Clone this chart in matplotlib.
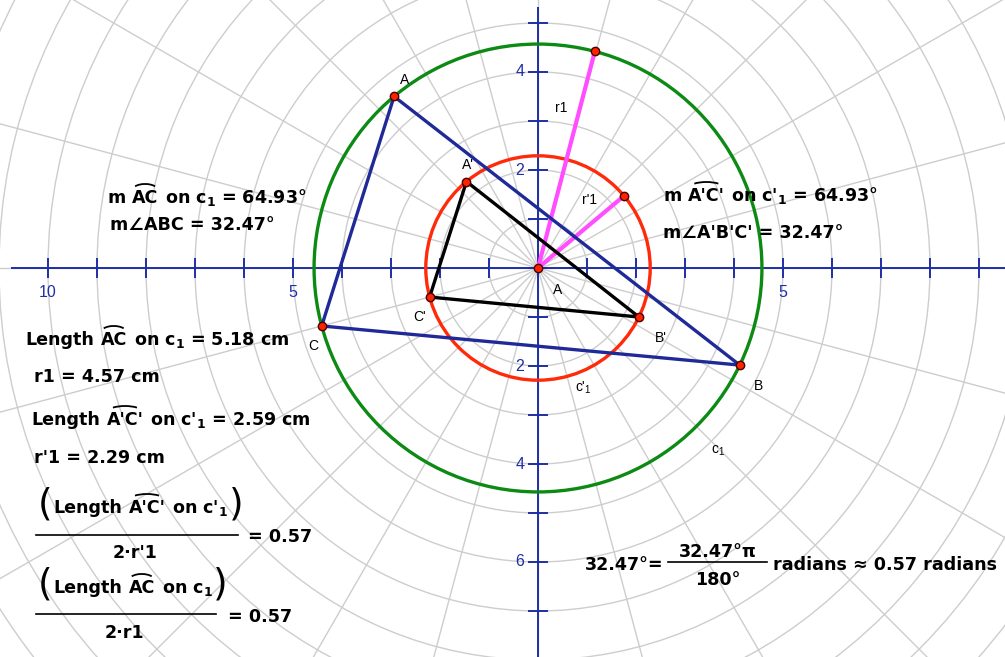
import numpy as np
import matplotlib.pyplot as plt
from matplotlib.patches import Circle, Arc
from matplotlib.transforms import IdentityTransform

plt.rcParams['mathtext.default'] = 'bf'

W, H = 1005, 657
ox, oy, unit = 538, 268, 49.0   # origin in pixels, pixels per cm

# values
r_big = 4.57          # r1
r_small = 2.29        # r'1
big_names = ['A', 'C', 'B']
big_deg = [130.0, 195.0, -25.7]
small_names = ["A'", "C'", "B'"]
small_deg = [129.6, 195.0, -25.9]
r1_deg = 75.3
rp1_deg = 40.0
grid_radii = np.arange(1, 15)
spoke_deg = np.arange(0, 360, 15)
xticks = list(range(-10, 10))
yticks = list(range(-7, 6))
xlabels = {-10: '10', -5: '5', 5: '5'}
ylabels = {4: '4', 2: '2', -2: '2', -4: '4', -6: '6'}

BLUE_AX = '#1e2ea6'
NAVY = '#1f2a96'
GREEN = '#0c8a14'
RED = '#ff2a0a'
MAG = '#ff4dff'
GRID = '#cdcdcd'

fig = plt.figure(figsize=(W / 100, H / 100), dpi=100)
ax = fig.add_axes([0, 0, 1, 1])
ax.set_xlim(-ox / unit, (W - ox) / unit)
ax.set_ylim(-(H - oy) / unit, oy / unit)
ax.axis('off')


def pt(px, py):
    return (px - ox) / unit, (oy - py) / unit


def polar(r, deg):
    a = np.radians(deg)
    return r * np.cos(a), r * np.sin(a)


# polar grid
for r in grid_radii:
    ax.add_patch(Circle((0, 0), r, fill=False, ec=GRID, lw=1.0, zorder=1))
for a in spoke_deg:
    x, y = polar(15, a)
    ax.plot([0, x], [0, y], color=GRID, lw=1.0, zorder=1)

# axes
ax.plot([-10.74, 9.6], [0, 0], color=BLUE_AX, lw=1.4, zorder=2)
ax.plot([0, 0], [-8.2, 5.31], color=BLUE_AX, lw=1.4, zorder=2)
tl = 0.19
for t in xticks:
    ax.plot([t, t], [-tl, tl], color=BLUE_AX, lw=1.4, zorder=2)
for t in yticks:
    ax.plot([-tl, tl], [t, t], color=BLUE_AX, lw=1.4, zorder=2)
for t, s in xlabels.items():
    ax.text(t, -0.49, s, ha='center', va='center', color=BLUE_AX,
            fontsize=11.5, family='Liberation Sans', zorder=2)
for t, s in ylabels.items():
    ax.text(-0.37, t, s, ha='center', va='center', color=BLUE_AX,
            fontsize=11.5, family='Liberation Sans', zorder=2)

# circles
ax.add_patch(Circle((0, 0), r_big, fill=False, ec=GREEN, lw=2.4, zorder=3))
ax.add_patch(Circle((0, 0), r_small, fill=False, ec=RED, lw=2.4, zorder=3))

# radii
for r, d in [(r_big, r1_deg), (r_small, rp1_deg)]:
    x, y = polar(r, d)
    ax.plot([0, x], [0, y], color=MAG, lw=3.0, zorder=4, solid_capstyle='butt')

# triangles
bx, by = polar(r_big, np.array(big_deg))
sx, sy = polar(r_small, np.array(small_deg))
ax.plot(np.append(bx, bx[0]), np.append(by, by[0]), color=NAVY, lw=2.4, zorder=5)
ax.plot(np.append(sx, sx[0]), np.append(sy, sy[0]), color='black', lw=2.4, zorder=5)

# points
px_ = list(bx) + list(sx) + [0, polar(r_big, r1_deg)[0], polar(r_small, rp1_deg)[0]]
py_ = list(by) + list(sy) + [0, polar(r_big, r1_deg)[1], polar(r_small, rp1_deg)[1]]
ax.plot(px_, py_, 'o', ms=6, mfc='#ff2200', mec='#4a0000', mew=1.0, zorder=6, ls='none')

# point / object labels
lab = dict(ha='center', va='center', fontsize=10, family='Liberation Sans', zorder=7)
for s, (x, y) in [('A', (405, 80)), ("A'", (468, 165)), ('A', (558, 290)),
                  ("C'", (420, 317)), ("B'", (661, 338)), ('C', (313, 346)),
                  ('B', (758, 386)), ('r1', (561, 108)), ("r'1", (589, 200)),
                  (r"c'$_{\mathregular{1}}$", (583, 388)),
                  (r"c$_{\mathregular{1}}$", (718, 451))]:
    ax.text(*pt(x, y), s, **lab)

# measurement texts (image pixel positions, baseline)
rend = fig.canvas.get_renderer()
FS = 12.6


def run(x, yb, parts, arc=None, size=FS):
    sp = 0.38 * size * 100 / 72
    boxes = []
    for p in parts:
        t = fig.text(x / W, 1 - yb / H, p, fontsize=size, fontweight='bold',
                     ha='left', va='baseline', zorder=8)
        bb = t.get_window_extent(rend)
        boxes.append(bb)
        x = x + bb.width + sp
    if arc is not None:
        bb = boxes[arc]
        cx = (bb.x0 + bb.x1) / 2
        fig.add_artist(Arc((cx, bb.y1 - 1), bb.width * 0.95, 12, theta1=20, theta2=160,
                           transform=IdentityTransform(), color='black', lw=1.3))
    return x - sp


def ctext(x, yb, s, size=FS):
    fig.text(x / W, 1 - yb / H, s, fontsize=size, fontweight='bold',
             ha='center', va='baseline')


run(107, 203, ['m', 'AC', 'on c$_1$ = 64.93°'], arc=1)
run(110, 230, ['m∠ABC = 32.47°'])
run(25, 345, ['Length', 'AC', 'on c$_1$ = 5.18 cm'], arc=1)
run(34, 382, ['r1 = 4.57 cm'])
run(31, 425, ['Length', "A'C'", "on c'$_1$ = 2.59 cm"], arc=1)
run(34, 463, ["r'1 = 2.29 cm"])

# fraction 1
fig.text(52 / W, 1 - 504 / H, '(', fontsize=27, ha='right', va='center')
end = run(53, 513, ['Length', "A'C'", "on c'$_1$"], arc=1)
fig.text((end + 1) / W, 1 - 504 / H, ')', fontsize=27, ha='left', va='center')
ax.plot(*zip(pt(36, 535), pt(238, 535)), color='black', lw=1.2)
ctext(135, 558, "2·r'1")
run(248, 542, ['= 0.57'])

# fraction 2
fig.text(52 / W, 1 - 584 / H, '(', fontsize=27, ha='right', va='center')
end = run(53, 593, ['Length', 'AC', 'on c$_1$'], arc=1)
fig.text((end + 1) / W, 1 - 584 / H, ')', fontsize=27, ha='left', va='center')
ax.plot(*zip(pt(36, 614), pt(216, 614)), color='black', lw=1.2)
ctext(124, 638, '2·r1')
run(228, 622, ['= 0.57'])

# right side
run(663, 201, ['m', "A'C'", "on c'$_1$ = 64.93°"], arc=1)
run(663, 238, ["m∠A'B'C' = 32.47°"])

# conversion
run(585, 570, ['32.47°='])
ctext(718, 557, '32.47°π')
ax.plot(*zip(pt(668, 562), pt(767, 562)), color='black', lw=1.2)
ctext(718, 585, '180°')
run(773, 570, ['radians ≈ 0.57 radians'])

fig.savefig('out.png', dpi=100)
